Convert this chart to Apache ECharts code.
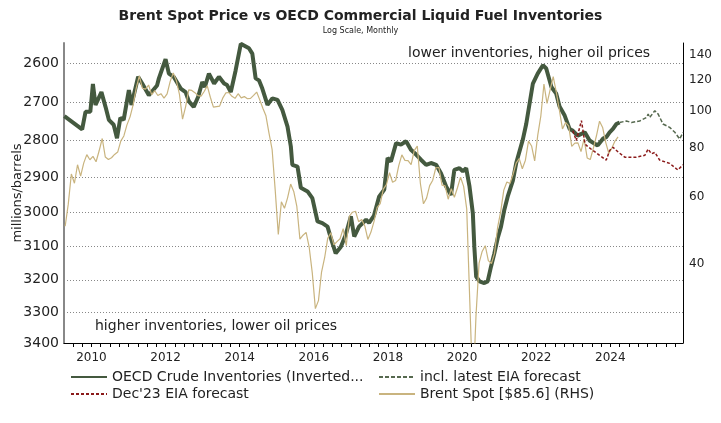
<!DOCTYPE html>
<html><head><meta charset="utf-8">
<script src="https://cdn.jsdelivr.net/npm/echarts@6/dist/echarts.min.js"></script>
<style>html,body{margin:0;padding:0;background:#fff}#c{width:721px;height:423px}</style>
</head><body><div id="c"></div>
<script>
// ---- tick labels ----
const yearLabels = [2010, 2012, 2014, 2016, 2018, 2020, 2022, 2024];
const inventoryTicks = [2600, 2700, 2800, 2900, 3000, 3100, 3200, 3300, 3400];
const priceTicks = [40, 60, 80, 100, 120, 140];

// ---- OECD commercial inventories, millions of barrels [decimal year, value] ----
const oecdInventories = [
  [2009.27,2735],[2009.30,2737],[2009.75,2770],[2009.84,2724],[2009.97,2724],[2010.04,2652],
  [2010.11,2706],[2010.27,2673],[2010.38,2711],[2010.47,2745],[2010.60,2758],[2010.69,2794],
  [2010.78,2740],[2010.87,2745],[2011.01,2668],[2011.08,2706],[2011.26,2634],[2011.37,2651],
  [2011.55,2681],[2011.77,2656],[2011.82,2638],[2012.00,2590],[2012.09,2626],[2012.22,2634],
  [2012.41,2664],[2012.54,2673],[2012.63,2697],[2012.76,2711],[2012.88,2685],[2012.99,2647],
  [2013.06,2660],[2013.17,2626],[2013.31,2651],[2013.44,2634],[2013.58,2651],[2013.66,2655],
  [2013.76,2673],[2013.89,2618],[2014.03,2552],[2014.25,2563],[2014.34,2576],[2014.43,2638],
  [2014.52,2643],[2014.61,2664],[2014.75,2706],[2014.88,2689],[2015.02,2693],[2015.15,2719],
  [2015.29,2763],[2015.38,2816],[2015.42,2866],[2015.56,2871],[2015.65,2930],[2015.83,2940],
  [2015.96,2959],[2016.10,3026],[2016.23,3031],[2016.37,3041],[2016.46,3075],[2016.59,3120],
  [2016.73,3100],[2016.86,3065],[2017.00,3011],[2017.09,3070],[2017.22,3041],[2017.41,3021],
  [2017.49,3030],[2017.62,3010],[2017.76,2955],[2017.90,2935],[2017.99,2847],[2018.08,2857],
  [2018.22,2807],[2018.35,2811],[2018.49,2802],[2018.62,2825],[2018.76,2838],[2018.89,2852],
  [2019.03,2866],[2019.16,2861],[2019.30,2866],[2019.43,2889],[2019.57,2926],[2019.70,2950],
  [2019.79,2880],[2019.93,2875],[2020.02,2884],[2020.11,2875],[2020.20,2926],[2020.29,3002],
  [2020.33,3100],[2020.38,3190],[2020.47,3205],[2020.60,3210],[2020.69,3205],[2020.78,3160],
  [2020.87,3120],[2020.96,3075],[2021.05,3041],[2021.14,2992],[2021.23,2955],[2021.37,2910],
  [2021.46,2861],[2021.64,2797],[2021.73,2756],[2021.91,2651],[2022.04,2626],[2022.18,2605],
  [2022.27,2613],[2022.41,2660],[2022.54,2677],[2022.63,2710],[2022.76,2732],[2022.90,2769],
  [2022.99,2774],[2023.12,2787],[2023.31,2778],[2023.44,2800],[2023.58,2809],[2023.66,2813],
  [2023.80,2795],[2023.89,2791],[2023.98,2778],[2024.07,2769],[2024.16,2756],[2024.25,2752]
];
// ---- latest EIA forecast path ----
const latestForecast = [
  [2024.25,2752],[2024.43,2748],[2024.57,2752],[2024.79,2748],[2024.97,2739],[2025.02,2730],
  [2025.06,2739],[2025.20,2721],[2025.29,2730],[2025.42,2756],[2025.60,2765],[2025.74,2778],
  [2025.87,2796],[2025.96,2778]
];
// ---- Dec'23 EIA forecast path ----
const dec23Forecast = [
  [2022.99,2774],[2023.08,2800],[2023.22,2747],[2023.31,2805],[2023.35,2813],[2023.53,2827],
  [2023.71,2840],[2023.89,2853],[2023.98,2827],[2024.07,2818],[2024.21,2831],[2024.39,2845],
  [2024.70,2845],[2024.93,2840],[2025.02,2823],[2025.11,2836],[2025.20,2832],[2025.33,2853],
  [2025.60,2862],[2025.82,2880],[2025.96,2866]
];
// ---- Brent spot, USD/bbl, monthly from Apr 2009 ----
const brentStartYear = 2009, brentStartMonth = 4;
const brentMonthly = [
  50.2,57.3,68.6,64.9,72.5,67.7,73.2,77.0,74.7,
  76.2,73.8,78.8,84.8,75.9,74.8,75.6,77.1,78.2,83.5,86.1,92.0,
  96.5,103.7,114.6,123.3,114.5,113.9,116.7,110.2,112.8,109.6,110.8,107.9,
  110.7,119.3,125.5,119.8,110.3,95.2,102.6,113.4,113.0,111.5,109.5,109.2,
  112.3,116.1,108.5,102.3,102.6,102.9,107.9,111.3,111.6,109.1,107.8,110.8,
  108.1,108.9,107.5,107.8,109.7,111.9,106.8,101.6,97.1,87.4,79.4,62.3,
  47.8,58.1,55.9,59.5,64.6,61.8,56.5,46.5,47.6,48.4,44.3,38.0,
  30.7,32.2,38.2,41.6,46.7,48.3,44.9,45.8,46.6,49.5,44.7,53.3,
  54.6,54.9,51.6,52.3,50.3,46.4,48.5,51.7,56.2,57.5,62.7,64.4,
  69.1,65.3,66.0,72.1,76.9,74.4,74.3,72.5,78.9,81.0,64.8,57.4,
  59.4,64.0,66.1,71.2,71.3,64.2,63.9,59.0,62.8,59.7,63.2,67.3,
  63.7,55.7,32.0,18.4,29.4,40.3,43.2,44.7,40.9,40.2,42.7,49.9,
  54.8,62.3,65.4,64.8,68.5,73.2,75.2,70.8,74.5,83.5,81.1,74.2,
  86.5,97.1,117.3,104.6,113.3,122.7,111.9,100.5,89.8,93.3,91.4,80.9,
  82.5,82.6,78.4,84.6,75.5,74.8,80.1,86.2,94.0,90.6,82.9,77.6,
  80.1,83.5,85.6
];

const brentData = brentMonthly.map((v, i) => [brentStartYear + (brentStartMonth - 1 + i + 0.5) / 12, v]);
const quarterTicks = [];
for (let q = 2009 * 4 + 2; q <= 2025 * 4 + 3; q++) quarterTicks.push(q / 4);

const FONT = 'DejaVu Sans';
const TXT = '#222';
const NAME_OECD = 'OECD Crude Inventories (Inverted...';
const NAME_LATEST = 'incl. latest EIA forecast';
const NAME_DEC = "Dec'23 EIA forecast";
const NAME_BRENT = 'Brent Spot [$85.6] (RHS)';

const legendCommon = {
  orient: 'vertical', itemGap: 3, itemWidth: 36, itemHeight: 14,
  itemStyle: {opacity: 0},
  textStyle: {fontFamily: FONT, fontSize: 14, color: TXT}
};

const chart = echarts.init(document.getElementById('c'), null, {renderer: 'canvas'});
chart.setOption({
  animation: false,
  backgroundColor: '#fff',
  title: {
    text: 'Brent Spot Price vs OECD Commercial Liquid Fuel Inventories',
    subtext: 'Log Scale, Monthly',
    left: 'center', top: 4, itemGap: 4,
    textStyle: {fontFamily: FONT, fontSize: 14, fontWeight: 'bold', color: TXT},
    subtextStyle: {fontFamily: FONT, fontSize: 8, color: TXT}
  },
  grid: {left: 64, right: 38, top: 43, bottom: 80, containLabel: false, outerBoundsMode: 'none'},
  legend: [
    Object.assign({left: 65, top: 365, data: [NAME_OECD, NAME_DEC]}, legendCommon),
    Object.assign({left: 373, top: 365, data: [NAME_LATEST, NAME_BRENT]}, legendCommon)
  ],
  xAxis: {
    type: 'value', min: 2009.26, max: 2025.96,
    axisLine: {show: true, lineStyle: {color: '#000', width: 1}},
    axisTick: {show: true, length: 4, customValues: quarterTicks, lineStyle: {color: '#000'}},
    axisLabel: {customValues: yearLabels, formatter: v => String(Math.round(v)),
      fontFamily: FONT, fontSize: 12, color: TXT, margin: 9},
    splitLine: {show: false}
  },
  yAxis: [
    {type: 'log', inverse: true, min: 2550, max: 3400, position: 'left',
     name: 'millions/barrels', nameLocation: 'middle', nameGap: 40, nameRotate: 90,
     nameMoveOverlap: false,
     nameTextStyle: {fontFamily: FONT, fontSize: 13, color: TXT},
     axisLine: {show: true, lineStyle: {color: '#888', width: 2}},
     axisTick: {show: false, customValues: inventoryTicks},
     axisLabel: {customValues: inventoryTicks, formatter: v => String(Math.round(v)),
       fontFamily: FONT, fontSize: 14, color: TXT, margin: 5},
     splitLine: {show: true, lineStyle: {color: '#888', type: [1, 2], width: 1}}},
    {type: 'log', min: 25, max: 150, position: 'right',
     axisLine: {show: true, lineStyle: {color: '#000', width: 1}},
     axisTick: {show: false, customValues: priceTicks},
     axisLabel: {customValues: priceTicks, formatter: v => String(Math.round(v)),
       fontFamily: FONT, fontSize: 12, color: TXT, margin: 6},
     splitLine: {show: false}}
  ],
  graphic: [
    {type: 'text', left: 405, top: 46, z: 50,
     style: {text: 'lower inventories, higher oil prices', fill: TXT, fontFamily: FONT, fontSize: 14,
       backgroundColor: '#fff', padding: [0, 3]}},
    {type: 'text', left: 95, top: 319, z: 50,
     style: {text: 'higher inventories, lower oil prices', fill: TXT, fontFamily: FONT, fontSize: 14}}
  ],
  series: [
    {name: NAME_OECD, type: 'line', yAxisIndex: 0, data: oecdInventories, symbol: 'none',
     lineStyle: {color: '#44593f', width: 4}, itemStyle: {color: '#44593f'}, z: 2},
    {name: NAME_BRENT, type: 'line', yAxisIndex: 1, data: brentData, symbol: 'none',
     lineStyle: {color: '#c9b47f', width: 1.2}, itemStyle: {color: '#c9b47f'}, z: 3},
    {name: NAME_LATEST, type: 'line', yAxisIndex: 0, data: latestForecast, symbol: 'none',
     lineStyle: {color: '#56694f', width: 1.5, type: [4, 2]}, itemStyle: {color: '#56694f'}, z: 4},
    {name: NAME_DEC, type: 'line', yAxisIndex: 0, data: dec23Forecast, symbol: 'none',
     lineStyle: {color: '#8b1a1a', width: 1.5, type: [3, 2]}, itemStyle: {color: '#8b1a1a'}, z: 4}
  ]
});
</script></body></html>
